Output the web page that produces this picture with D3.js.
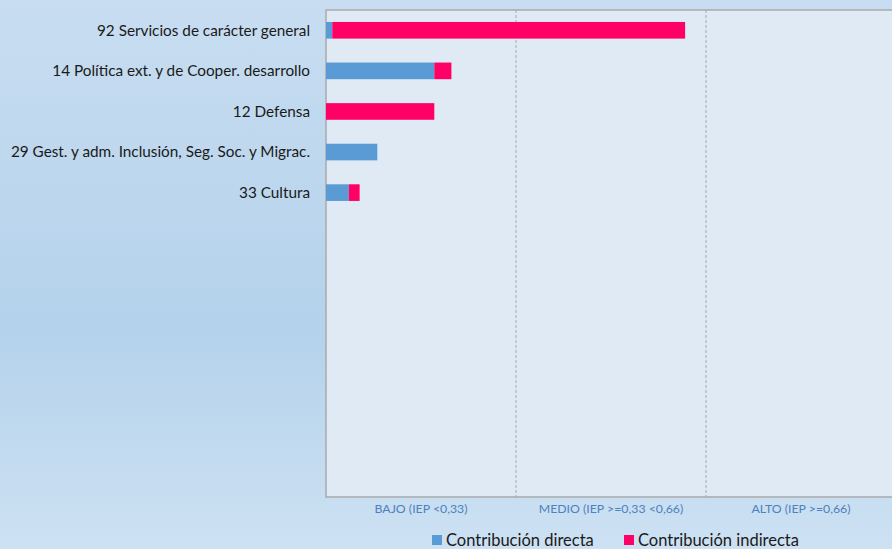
<!DOCTYPE html>
<html>
<head>
<meta charset="utf-8">
<style>
  html, body { margin: 0; padding: 0; }
  svg { display: block; }
  text { font-family: Lato, "Open Sans", sans-serif; }
</style>
</head>
<body>
<svg id="chart" width="892" height="549"></svg>
<script src="https://cdn.jsdelivr.net/npm/d3@7"></script>
<script>
// programas (de arriba abajo); el resto de huecos del gráfico queda vacío
var categories = [
  "92 Servicios de carácter general",
  "14 Política ext. y de Cooper. desarrollo",
  "12 Defensa",
  "29 Gest. y adm. Inclusión, Seg. Soc. y Migrac.",
  "33 Cultura"
];
var directa   = [0.011, 0.190, 0.000, 0.090, 0.040];
var indirecta = [0.619, 0.030, 0.190, 0.000, 0.019];
var slots = 12;
var tickLabels = ["BAJO (IEP <0,33)", "MEDIO (IEP >=0,33 <0,66)", "ALTO (IEP >=0,66)"];
var seriesNames = ["Contribución directa", "Contribución indirecta"];
var colors = ["#5b9bd5", "#ff0066"];

var width = 892, height = 549;
var margin = {top: 10, left: 326, bottom: 497, right: 896};

var svg = d3.select("#chart");

// fondo degradado
var defs = svg.append("defs");
var grad = defs.append("linearGradient").attr("id", "bg")
    .attr("x1", 0).attr("y1", 0).attr("x2", 0).attr("y2", 1);
grad.append("stop").attr("offset", "0%").attr("stop-color", "#c8ddf1");
grad.append("stop").attr("offset", "60%").attr("stop-color", "#b4d2eb");
grad.append("stop").attr("offset", "100%").attr("stop-color", "#cde1f3");
svg.append("rect").attr("width", width).attr("height", height).attr("fill", "url(#bg)");

var x = d3.scaleLinear().domain([0, 1]).range([margin.left, margin.right]);
var slotNames = d3.range(slots).map(function(i) { return i < categories.length ? categories[i] : "_" + i; });
var y = d3.scaleBand().domain(slotNames).range([margin.top, margin.bottom]).paddingInner(0.59).paddingOuter(0.295);

// área de trazado
svg.append("rect")
    .attr("x", margin.left).attr("y", margin.top)
    .attr("width", margin.right - margin.left).attr("height", margin.bottom - margin.top)
    .attr("fill", "#dfeaf5")
    .attr("stroke", "#aaaaaa").attr("stroke-width", 1.5);

// líneas de separación
svg.append("g").selectAll("line")
    .data([1 / 3, 2 / 3])
    .enter().append("line")
    .attr("x1", function(d) { return x(d); }).attr("x2", function(d) { return x(d); })
    .attr("y1", margin.top).attr("y2", margin.bottom)
    .attr("stroke", "#aaaaaa").attr("stroke-width", 1)
    .attr("stroke-dasharray", "3,2");

// barras apiladas
var stacked = categories.map(function(c, i) {
  return [
    {cat: c, x0: 0, x1: directa[i], s: 0},
    {cat: c, x0: directa[i], x1: directa[i] + indirecta[i], s: 1}
  ];
});
svg.append("g").selectAll("rect")
    .data(d3.merge(stacked).filter(function(d) { return d.x1 > d.x0; }))
    .enter().append("rect")
    .attr("x", function(d) { return x(d.x0); })
    .attr("width", function(d) { return x(d.x1) - x(d.x0); })
    .attr("y", function(d) { return y(d.cat); })
    .attr("height", y.bandwidth())
    .attr("fill", function(d) { return colors[d.s]; });

// etiquetas de categoría
svg.append("g").selectAll("text")
    .data(categories)
    .enter().append("text")
    .attr("x", 310)
    .attr("y", function(d) { return y(d) + y.bandwidth() / 2; })
    .attr("dy", "0.35em")
    .attr("text-anchor", "end")
    .attr("font-size", 15.3)
    .attr("fill", "#1a1a1a")
    .text(function(d) { return d; });

// etiquetas del eje x
svg.append("g").selectAll("text")
    .data(tickLabels)
    .enter().append("text")
    .attr("x", function(d, i) { return x((i + 0.5) / 3); })
    .attr("y", 509)
    .attr("dy", "0.35em")
    .attr("text-anchor", "middle")
    .attr("font-size", 12.3)
    .attr("fill", "#4f81bd")
    .text(function(d) { return d; });

// leyenda
var legendX = [432, 624];
var lg = svg.append("g").selectAll("g")
    .data(seriesNames)
    .enter().append("g")
    .attr("transform", function(d, i) { return "translate(" + legendX[i] + ",540)"; });
lg.append("rect").attr("x", 0).attr("y", -5).attr("width", 10).attr("height", 10)
    .attr("fill", function(d, i) { return colors[i]; });
lg.append("text").attr("x", 14).attr("dy", "0.35em")
    .attr("font-size", 16.5).attr("fill", "#1a1a1a")
    .text(function(d) { return d; });
</script>
</body>
</html>
